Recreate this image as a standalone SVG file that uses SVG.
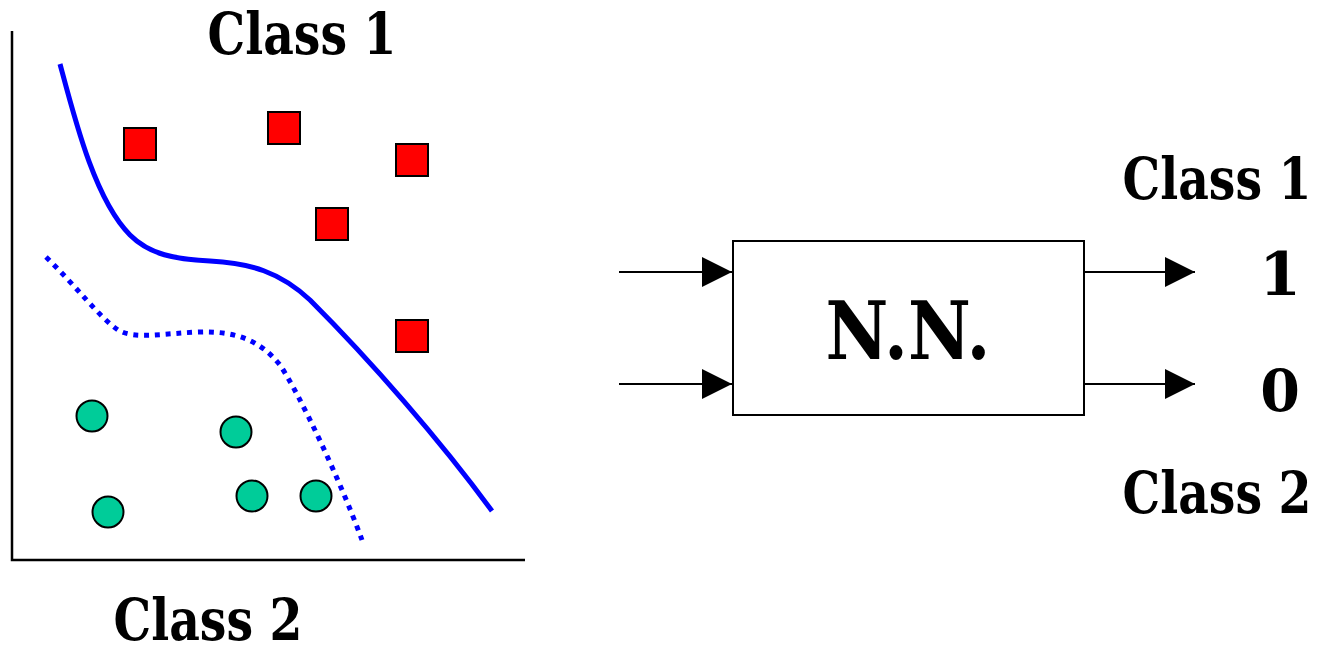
<svg xmlns="http://www.w3.org/2000/svg" width="1317" height="651" viewBox="0 0 1317 651">
<style>
  text { font-family: "DejaVu Serif", "Liberation Serif", serif; font-weight: bold; fill: #000; text-anchor: middle; }
  .axis { stroke: #000; stroke-width: 2.5; fill: none; }
  .sq { fill: #FF0000; stroke: #000; stroke-width: 2; }
  .pt { fill: #00CC99; stroke: #000; stroke-width: 2; }
  .conn { stroke: #000; stroke-width: 2; fill: none; }
  .solid { stroke: #0000FF; stroke-width: 5; fill: none; }
  .dotted { stroke: #0000FF; stroke-width: 5; fill: none; stroke-dasharray: 5 5.8; }
</style>
<defs>
  <marker id="arrow" markerUnits="userSpaceOnUse" markerWidth="30" markerHeight="30" refX="30" refY="15" orient="auto" viewBox="0 0 30 30">
    <path d="M0,0 L30,15 L0,30 z" fill="#000"/>
  </marker>
</defs>
<rect x="0" y="0" width="1317" height="651" fill="#fff"/>

<g id="plot">
  <path class="axis" d="M12,31 L12,560 L525,560"/>
  <path class="solid" d="M60,64 C75,120 95,200 130,235 C150,255 175,259 210,261 C250,263 280,272 310,300 C370,360 440,440 492,511"/>
  <path class="dotted" d="M46,257 C75,285 100,318 118,330 C135,340 165,333 200,332 C235,331 260,340 280,365 C300,395 340,480 362,540"/>
</g>

<g id="class1-points">
  <rect class="sq" x="124" y="128" width="32" height="32"/>
  <rect class="sq" x="268" y="112" width="32" height="32"/>
  <rect class="sq" x="396" y="144" width="32" height="32"/>
  <rect class="sq" x="316" y="208" width="32" height="32"/>
  <rect class="sq" x="396" y="320" width="32" height="32"/>
</g>

<g id="class2-points">
  <circle class="pt" cx="92" cy="416" r="15.5"/>
  <circle class="pt" cx="236" cy="432" r="15.5"/>
  <circle class="pt" cx="108" cy="512" r="15.5"/>
  <circle class="pt" cx="252" cy="496" r="15.5"/>
  <circle class="pt" cx="316" cy="496" r="15.5"/>
</g>

<g id="label-class1-top" transform="translate(302,54) scale(0.83,1)"><text x="0" y="0" font-size="57">Class 1</text></g>
<g id="label-class2-bottom" transform="translate(208,640) scale(0.83,1)"><text x="0" y="0" font-size="57">Class 2</text></g>

<g id="nn">
  <rect x="733" y="241" width="351" height="174" fill="#fff" stroke="#000" stroke-width="2"/>
  <g transform="translate(908,359) scale(0.86,1)"><text x="0" y="0" font-size="80">N.N.</text></g>
</g>

<g id="out-1"><text x="1280" y="295" font-size="60">1</text></g>
<g id="out-0"><text x="1280" y="411" font-size="57">0</text></g>
<g id="label-class1-right" transform="translate(1217,199) scale(0.83,1)"><text x="0" y="0" font-size="57">Class 1</text></g>
<g id="label-class2-right" transform="translate(1217,513) scale(0.83,1)"><text x="0" y="0" font-size="57">Class 2</text></g>

<g id="connectors">
  <line class="conn" x1="619" y1="272" x2="732" y2="272" marker-end="url(#arrow)"/>
  <line class="conn" x1="619" y1="384" x2="732" y2="384" marker-end="url(#arrow)"/>
  <line class="conn" x1="1085" y1="272" x2="1195" y2="272" marker-end="url(#arrow)"/>
  <line class="conn" x1="1085" y1="384" x2="1195" y2="384" marker-end="url(#arrow)"/>
</g>
</svg>
